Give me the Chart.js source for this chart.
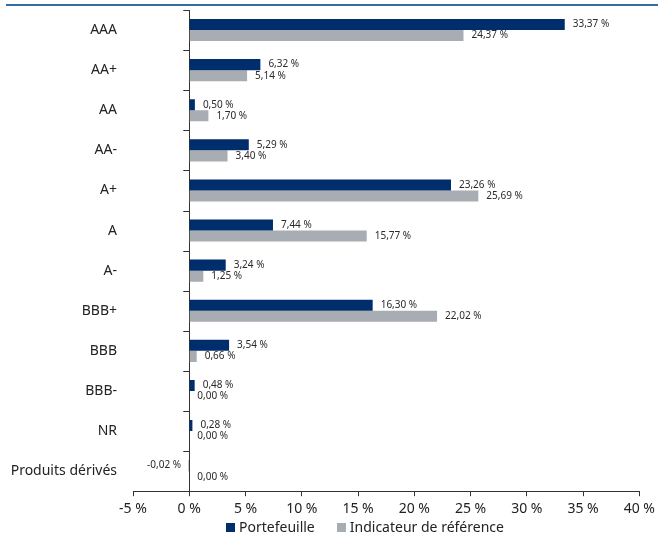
<!DOCTYPE html>
<html>
<head>
<meta charset="utf-8">
<script src="https://cdn.jsdelivr.net/npm/chart.js@4.4.1/dist/chart.umd.min.js"></script>
<style>
	html, body { margin: 0; padding: 0; background: #fff; }
	#wrap { position: relative; width: 659px; height: 535px; }
	#filet { position: absolute; left: 6px; top: 4px; width: 652px; border-top: 2px solid #2f6fa4; }
	#legende { position: absolute; left: 226px; top: 518px; font: 14px "Noto Sans", sans-serif; color: #222; white-space: nowrap; line-height: 17px; }
	#legende span.item { margin-right: 22px; }
	#legende span.carre { display: inline-block; width: 9px; height: 9px; margin-right: 4px; vertical-align: 0px; }
</style>
</head>
<body>
<div id="wrap">
	<div id="filet"></div>
	<canvas id="chart"></canvas>
	<div id="legende"></div>
</div>
<script>

var categories = ['AAA', 'AA+', 'AA', 'AA-', 'A+', 'A', 'A-', 'BBB+', 'BBB', 'BBB-', 'NR', 'Produits dérivés'];
var portefeuille = [33.37, 6.32, 0.50, 5.29, 23.26, 7.44, 3.24, 16.30, 3.54, 0.48, 0.28, -0.02];
var indicateur = [24.37, 5.14, 1.70, 3.40, 25.69, 15.77, 1.25, 22.02, 0.66, 0.00, 0.00, 0.00];
var ticksX = [-5, 0, 5, 10, 15, 20, 25, 30, 35, 40];

var police = '"Noto Sans", sans-serif';

function pct(v){
	return v.toFixed(2).replace('.', ',') + ' %';
}

// etiquettes au bout des barres
var etiquettes = {
	id: 'etiquettes',
	afterDatasetsDraw: function(chart){
		var ctx = chart.ctx;
		ctx.save();
		ctx.font = '10px ' + police;
		ctx.fillStyle = '#2a2a2a';
		ctx.textBaseline = 'middle';
		chart.data.datasets.forEach(function(ds, i){
			var meta = chart.getDatasetMeta(i);
			meta.data.forEach(function(bar, j){
				var v = ds.data[j];
				if(v < 0){
					ctx.textAlign = 'right';
					ctx.fillText(pct(v), bar.x - 8, bar.y);
				} else {
					ctx.textAlign = 'left';
					ctx.fillText(pct(v), bar.x + 8, bar.y);
				}
			});
		});
		ctx.restore();
	}
};

// petits traits de l'axe vertical, places sur le zero de l'axe x
var traitsCategories = {
	id: 'traitsCategories',
	afterDraw: function(chart){
		var ctx = chart.ctx;
		var y = chart.scales.y;
		var x0 = chart.scales.x.getPixelForValue(0);
		var pas = y.getPixelForTick(1) - y.getPixelForTick(0);
		ctx.save();
		ctx.strokeStyle = '#333';
		ctx.lineWidth = 1;
		ctx.beginPath();
		for(var i = 0; i <= categories.length; i++){
			var py = Math.round(y.getPixelForTick(0) - pas / 2 + i * pas) + 0.5;
			ctx.moveTo(x0 - 6, py);
			ctx.lineTo(x0, py);
		}
		ctx.stroke();
		ctx.restore();
	}
};

var ctx = document.getElementById('chart');

var grafico = new Chart(ctx, {
	type: 'bar',
	data: {
		labels: categories,
		datasets: [{
			label: 'Portefeuille',
			data: portefeuille,
			backgroundColor: '#002d6b',
			borderWidth: 0,
			categoryPercentage: 0.55,
			barPercentage: 1
		}, {
			label: 'Indicateur de référence',
			data: indicateur,
			backgroundColor: '#a7adb2',
			borderWidth: 0,
			categoryPercentage: 0.55,
			barPercentage: 1
		}]
	},
	options: {
		indexAxis: 'y',
		responsive: true,
		maintainAspectRatio: false,
		animation: false,
		layout: { padding: { top: 10, left: 0, right: 18, bottom: 14 } },
		plugins: {
			tooltip: { enabled: false },
			legend: { display: false }
		},
		scales: {
			x: {
				type: 'linear',
				min: -5,
				max: 40,
				afterBuildTicks: function(scale){
					scale.ticks = ticksX.map(function(v){ return { value: v }; });
				},
				grid: {
					drawOnChartArea: true,
					tickLength: 5,
					tickColor: '#333',
					color: function(c){ return c.tick && c.tick.value === 0 ? '#333' : 'rgba(0,0,0,0)'; }
				},
				border: { color: '#333', width: 1 },
				ticks: {
					color: '#222',
					padding: 4,
					font: { family: police, size: 14 },
					callback: function(v){ return v + ' %'; }
				}
			},
			y: {
				type: 'category',
				position: 'left',
				afterFit: function(scale){
					scale.width = 133;
					scale.paddingTop = 0;
					scale.paddingBottom = 0;
				},
				grid: { display: true, drawOnChartArea: false, drawTicks: false },
				border: { display: false },
				ticks: {
					color: '#222',
					padding: 16,
					font: { family: police, size: 14 }
				}
			}
		}
	},
	plugins: [etiquettes, traitsCategories]
});

// legende html a partir des series
var leg = document.getElementById('legende');
grafico.data.datasets.forEach(function(ds){
	leg.innerHTML += '<span class="item"><span class="carre" style="background:' + ds.backgroundColor + '"></span>' + ds.label + '</span>';
});

</script>
</body>
</html>
